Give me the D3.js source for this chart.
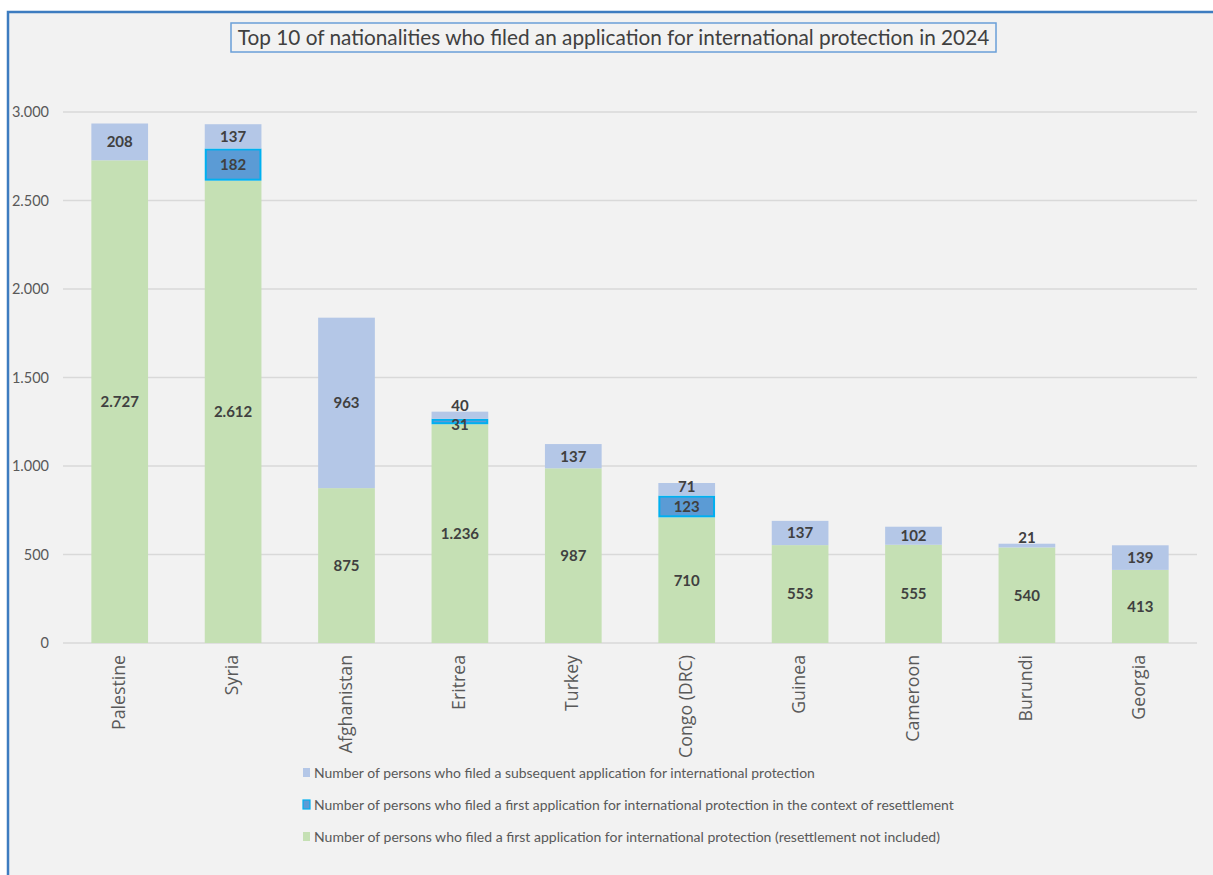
<!DOCTYPE html>
<html>
<head>
<meta charset="utf-8">
<script src="https://cdn.jsdelivr.net/npm/d3@7"></script>
<style>
  html, body { margin: 0; padding: 0; background: #ffffff; }
  svg { display: block; }
  text { font-family: Lato, "Open Sans", sans-serif; }
</style>
</head>
<body>
<svg id="chart" width="1213" height="875"></svg>
<script>
// ---- Data ----
const categories = ["Palestine", "Syria", "Afghanistan", "Eritrea", "Turkey", "Congo (DRC)", "Guinea", "Cameroon", "Burundi", "Georgia"];
const firstApplications = [2727, 2612, 875, 1236, 987, 710, 553, 555, 540, 413];
const resettlementApplications = [0, 182, 0, 31, 0, 123, 0, 0, 0, 0];
const subsequentApplications = [208, 137, 963, 40, 137, 71, 137, 102, 21, 139];
const yTicks = [0, 500, 1000, 1500, 2000, 2500, 3000];
const seriesNames = [
  "Number of persons who filed a first application for international protection (resettlement not included)",
  "Number of persons who filed a first application for international protection in the context of resettlement",
  "Number of persons who filed a subsequent application for international protection"
];
const titleText = "Top 10 of nationalities who filed an application for international protection in 2024";

// ---- Setup ----
const svg = d3.select("#chart");
const W = 1213, H = 875;
const colors = ["#c5e0b4", "#5b9bd5", "#b4c7e7"];
const strokeColors = [null, "#00b0f0", null];
const fmt = v => d3.format(",")(v).replace(/,/g, ".");

// frame
svg.append("rect").attr("x", 8).attr("y", 12).attr("width", W).attr("height", H)
  .attr("fill", "#f2f2f2").attr("stroke", "#3d7cc0").attr("stroke-width", 2.5);

const plot = { left: 63, right: 1197, top: 112, bottom: 643 };

const x = d3.scaleBand().domain(categories).range([plot.left, plot.right]).paddingInner(0.5).paddingOuter(0.25);
const y = d3.scaleLinear().domain([0, 3000]).range([plot.bottom, plot.top]);

// gridlines
svg.append("g").selectAll("line").data(yTicks).join("line")
  .attr("x1", plot.left).attr("x2", plot.right)
  .attr("y1", d => y(d)).attr("y2", d => y(d))
  .attr("stroke", "#d9d9d9").attr("stroke-width", 1.5);

// y axis labels
const yAxis = d3.axisLeft(y).tickValues(yTicks).tickFormat(fmt).tickSize(0).tickPadding(14);
const yg = svg.append("g").attr("transform", `translate(${plot.left},0)`).call(yAxis);
yg.select(".domain").remove();
yg.selectAll("text").attr("fill", "#595959").style("font-size", "14.5px").style("font-family", "Lato, sans-serif");

// stacked data
const rows = categories.map((c, i) => ({ cat: c, s0: firstApplications[i], s1: resettlementApplications[i], s2: subsequentApplications[i] }));
const stack = d3.stack().keys(["s0", "s1", "s2"]);
const stacked = stack(rows);

const bw = x.bandwidth();
stacked.forEach((layer, li) => {
  const g = svg.append("g");
  const data = layer.filter(d => d[1] - d[0] > 0);
  g.selectAll("rect").data(data).join("rect")
    .attr("x", d => x(d.data.cat) + (strokeColors[li] ? 1 : 0))
    .attr("y", d => y(d[1]) + (strokeColors[li] ? 1 : 0))
    .attr("width", bw - (strokeColors[li] ? 2 : 0))
    .attr("height", d => Math.max(0, y(d[0]) - y(d[1]) - (strokeColors[li] ? 2 : 0)))
    .attr("fill", colors[li])
    .attr("stroke", strokeColors[li] || "none")
    .attr("stroke-width", strokeColors[li] ? 2 : 0);
});

// data labels
stacked.forEach((layer, li) => {
  const g = svg.append("g");
  const data = layer.filter(d => d[1] - d[0] > 0);
  g.selectAll("text").data(data).join("text")
    .attr("x", d => x(d.data.cat) + bw / 2)
    .attr("y", d => {
      const v = d[1] - d[0];
      let cy = (y(d[0]) + y(d[1])) / 2;
      if (li === 2 && v < 60) cy = y(d[1]) - 6;
      if (li === 2 && v >= 60 && v < 100) cy -= 3;
      if (li === 1 && v < 60) cy += 3;
      return cy;
    })
    .attr("dy", "0.36em")
    .attr("text-anchor", "middle")
    .attr("fill", "#404040")
    .style("font-size", "15px").style("font-weight", "bold")
    .text(d => fmt(d[1] - d[0]));
});

// x axis labels
const xl = svg.append("g").selectAll("text").data(categories).join("text")
  .attr("transform", d => `translate(${x(d) + bw / 2 + 5},655) rotate(-90)`)
  .attr("text-anchor", "end")
  .attr("fill", "#595959")
  .style("font-family", "'Open Sans', sans-serif")
  .style("font-size", "15px")
  .text(d => d);
const pw = xl.nodes()[0].getComputedTextLength();
xl.style("font-size", (15 * 75 / pw).toFixed(2) + "px");

// title
const tg = svg.append("g");
const tt = tg.append("text").attr("x", 613.5).attr("y", 38).attr("dy", "0.35em")
  .attr("text-anchor", "middle").attr("fill", "#404040").style("font-size", "19px").text(titleText);
const tw = tt.node().getComputedTextLength();
tt.style("font-size", (19 * 752 / tw).toFixed(2) + "px");
tg.insert("rect", "text").attr("x", 231).attr("y", 23).attr("width", 765).attr("height", 29)
  .attr("fill", "none").attr("stroke", "#6a9fd8").attr("stroke-width", 1.5);

// legend
const legendOrder = [2, 1, 0];
const legendY = [773, 805, 837];
const legendTargets = [501, 640, 626];
legendOrder.forEach((si, k) => {
  const g = svg.append("g");
  g.append("rect").attr("x", 303).attr("y", legendY[k] - 5).attr("width", 7).attr("height", 9)
    .attr("fill", colors[si])
    .attr("stroke", strokeColors[si] || "none").attr("stroke-width", strokeColors[si] ? 1.2 : 0);
  const t = g.append("text").attr("x", 314).attr("y", legendY[k]).attr("dy", "0.35em")
    .attr("fill", "#595959").style("font-size", "14px").text(seriesNames[si]);
  const w = t.node().getComputedTextLength();
  t.style("font-size", (14 * legendTargets[k] / w).toFixed(2) + "px");
});
</script>
</body>
</html>
